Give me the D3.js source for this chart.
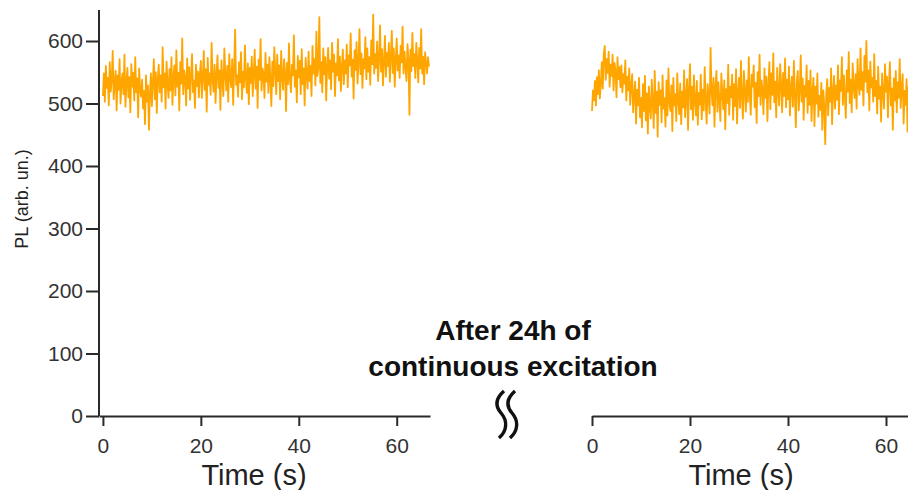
<!DOCTYPE html>
<html><head><meta charset="utf-8">
<script src="https://cdn.jsdelivr.net/npm/d3@7"></script>
<style>body{margin:0;background:#fff}svg{display:block;font-family:"Liberation Sans",Arial,sans-serif}</style>
</head><body><svg id="c" width="908" height="490"></svg>
<script>
const timeStep = 0.2;
const yTicks = [0,100,200,300,400,500,600];
const xTicks = [0,20,40,60];
const yLabel = "PL (arb. un.)";
const xLabel = "Time (s)";
const noteLines = ["After 24h of","continuous excitation"];
// Before (left panel) PL trace, sampled every 0.2 s
const plBefore = [
512,548,503,560,525,541,497,566,519,538,
584,507,531,552,489,545,522,571,500,536,
548,515,578,495,533,557,510,542,486,563,
527,549,505,574,518,540,478,556,523,511,
538,492,520,467,545,503,529,458,514,548,
496,533,571,507,550,485,539,562,518,545,
503,590,526,548,492,567,531,509,555,521,
574,498,542,561,513,585,527,549,489,566,
532,604,515,553,541,497,572,524,558,506,
545,579,518,537,493,562,528,551,510,547,
568,509,541,584,522,555,487,573,530,548,
514,597,538,519,562,501,546,577,525,553,
490,569,536,512,588,547,521,560,503,579,
541,526,571,498,555,618,530,545,511,566,
534,582,507,551,526,593,540,517,564,499,
557,533,575,512,548,586,524,559,493,570,
538,603,521,556,547,509,581,535,562,517,
574,541,496,567,528,590,552,515,578,536,
561,507,584,543,522,571,549,488,565,531,
596,539,518,562,545,609,527,553,502,576,
542,568,515,587,531,556,497,573,548,524,
583,536,560,512,592,548,571,529,615,544,
557,638,533,566,518,588,547,574,505,561,
589,540,569,523,597,551,578,512,564,545,
603,537,575,520,558,586,531,569,548,594,
526,577,561,612,543,570,508,585,554,598,
532,566,619,547,580,525,571,556,606,539,
588,551,574,530,601,563,642,548,579,557,
599,536,572,625,551,587,529,568,608,543,
581,560,597,535,574,616,549,588,527,569,
604,553,577,541,592,566,623,548,583,558,
536,595,571,482,586,552,613,560,579,541,
597,568,534,589,556,619,548,575,531,582,
565,548,574,559];
// After 24h (right panel) PL trace, sampled every 0.2 s
const plAfter = [
488,521,505,536,497,542,515,553,508,531,
566,524,579,592,538,571,549,583,527,562,
544,578,521,565,553,510,574,539,558,526,
561,518,547,532,569,505,543,521,556,498,
529,547,486,514,535,468,522,497,541,478,
509,462,531,488,544,473,516,452,527,495,
476,538,503,461,552,485,519,447,534,498,
521,470,545,492,508,463,537,481,556,502,
488,529,456,541,497,515,472,548,506,483,
532,467,519,494,553,478,510,539,458,524,
563,491,527,474,545,505,481,536,466,517,
498,546,475,522,489,558,503,468,531,511,
484,589,519,497,541,463,526,552,487,534,
505,472,548,516,491,537,459,523,501,562,
482,527,510,546,474,531,496,555,468,518,
541,493,568,509,476,552,521,487,537,503,
574,515,482,546,527,561,494,533,469,550,
512,578,498,537,521,483,556,509,543,472,
529,566,491,548,514,580,502,535,478,557,
520,497,563,531,486,549,512,572,494,538,
507,559,481,526,543,495,568,516,462,534,
552,489,521,577,503,540,474,528,511,561,
485,536,498,553,472,519,541,464,527,500,
548,479,512,490,533,458,521,496,435,514,
539,481,525,503,556,467,518,544,492,529,
506,561,483,537,520,574,498,545,512,477,
553,519,582,501,538,486,564,527,509,547,
492,571,530,514,588,522,550,497,576,535,
600,518,553,489,567,526,541,503,579,512,
536,484,559,508,527,471,548,515,492,563,
519,543,478,531,566,497,524,458,540,505,
552,486,534,509,571,493,526,547,468,520,
498,539,455,527,512,561,483,530,506,544];

const svg = d3.select("#c");
const axisColor = "#2a2a2a";
const orange = "#ffa500";
const font = "'Liberation Sans',Arial,sans-serif";
const y = d3.scaleLinear().domain([0,650]).range([416,9.75]);
const xL = d3.scaleLinear().domain([-0.8,66.8]).range([99,430]);
const xR = d3.scaleLinear().domain([0,64.9]).range([592,910]);

svg.append("defs").append("clipPath").attr("id","clipR")
  .append("rect").attr("x",590).attr("y",0).attr("width",318).attr("height",416);

function drawTrace(data, x, clip){
  const line = d3.line().x((d,i)=>x(i*timeStep)).y(d=>y(d));
  const p = svg.append("path").datum(data)
    .attr("d",line).attr("fill","none").attr("stroke",orange)
    .attr("stroke-width",1.8).attr("stroke-linejoin","round");
  if(clip) p.attr("clip-path","url(#clipR)");
}
drawTrace(plBefore, xL, false);
drawTrace(plAfter, xR, true);

function styleAxis(g){
  g.attr("font-size",21).attr("font-family",font);
  g.selectAll("path,line").attr("stroke",axisColor).attr("stroke-width",2);
  g.selectAll("text").attr("fill","#333").attr("font-size",21);
}
// left y axis
const gy = svg.append("g").attr("transform","translate(99,0)")
  .call(d3.axisLeft(y).tickValues(yTicks).tickSize(13).tickSizeOuter(0).tickPadding(3));
styleAxis(gy);
gy.select(".domain").attr("d","M0,416V10");
// left x axis
const gxL = svg.append("g").attr("transform","translate(0,416)")
  .call(d3.axisBottom(xL).tickValues(xTicks).tickSize(10).tickSizeOuter(0).tickPadding(12));
styleAxis(gxL);
// right x axis
const gxR = svg.append("g").attr("transform","translate(0,416)")
  .call(d3.axisBottom(xR).tickValues(xTicks).tickSize(10).tickSizeOuter(0).tickPadding(12));
styleAxis(gxR);

// axis titles
[254,741].forEach(cx=>{
  svg.append("text").attr("x",cx).attr("y",485).attr("text-anchor","middle")
    .attr("fill","#222").attr("font-family",font).attr("font-size",29).text(xLabel);
});
svg.append("text").attr("transform","translate(28,199) rotate(-90)").attr("text-anchor","middle")
  .attr("fill","#222").attr("font-family",font).attr("font-size",18).text(yLabel);

// annotation
noteLines.forEach((t,i)=>{
  svg.append("text").attr("x",513).attr("y",340+i*36).attr("text-anchor","middle")
    .attr("fill","#111").attr("font-family",font).attr("font-size",28).attr("font-weight","bold").text(t);
});
// break squiggles
[0,11].forEach(dx=>{
  svg.append("path")
    .attr("d",`M${504+dx},391 C${495+dx},399 ${495+dx},406 ${501+dx},413 C${508+dx},421 ${507+dx},431 ${499+dx},438`)
    .attr("fill","none").attr("stroke","#111").attr("stroke-width",3.4);
});
</script></body></html>
